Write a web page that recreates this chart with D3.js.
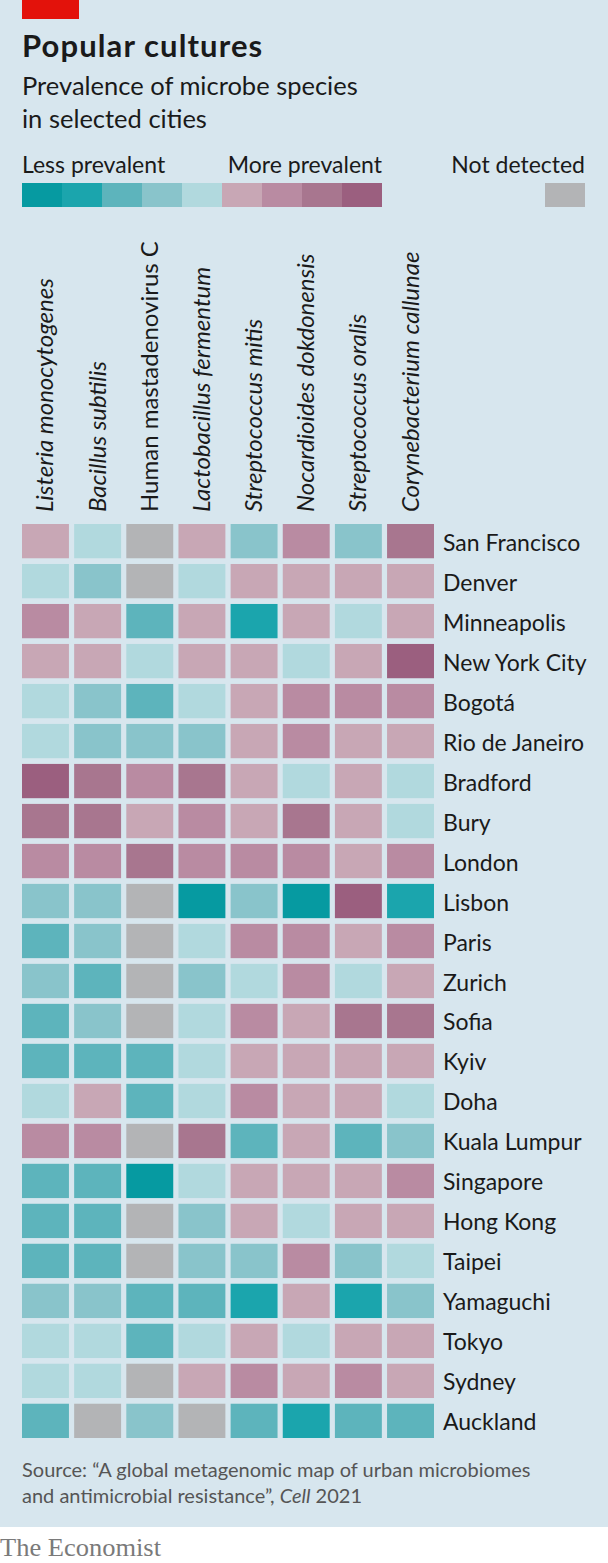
<!DOCTYPE html>
<html>
<head>
<meta charset="utf-8">
<script src="https://cdn.jsdelivr.net/npm/d3@7"></script>
<style>
  html, body { margin: 0; padding: 0; background: #ffffff; }
  svg { display: block; }
  text { font-family: Lato, "Open Sans", sans-serif; }
</style>
</head>
<body>
<svg id="chart" width="608" height="1563"></svg>
<script>
// ---- Data ----
const species = [
  "Listeria monocytogenes", "Bacillus subtilis", "Human mastadenovirus C",
  "Lactobacillus fermentum", "Streptococcus mitis", "Nocardioides dokdonensis",
  "Streptococcus oralis", "Corynebacterium callunae"
];
const italicSpecies = [true, true, false, true, true, true, true, true];
const cities = [
  "San Francisco", "Denver", "Minneapolis", "New York City", "Bogotá", "Rio de Janeiro",
  "Bradford", "Bury", "London", "Lisbon", "Paris", "Zurich", "Sofia", "Kyiv", "Doha",
  "Kuala Lumpur", "Singapore", "Hong Kong", "Taipei", "Yamaguchi", "Tokyo", "Sydney", "Auckland"
];
// prevalence level 1 (less) .. 9 (more); null = not detected; one array per species, in city order
const listeria        = [6,5,7,6,5,5,9,8,7,4,3,4,3,3,5,7,3,3,3,4,5,5,3];
const bacillus        = [5,4,6,6,4,4,8,8,7,4,4,3,4,3,6,7,3,3,3,4,5,5,null];
const mastadenovirus  = [null,null,3,5,3,4,7,6,8,null,null,null,null,3,3,null,1,null,null,3,3,null,4];
const lactobacillus   = [6,5,6,6,5,4,8,7,7,1,5,4,5,5,5,8,5,4,4,3,5,6,null];
const mitis           = [4,6,2,6,6,6,6,6,7,4,7,5,7,6,7,3,6,6,4,2,6,7,3];
const nocardioides    = [7,6,6,5,7,7,5,8,7,1,7,7,6,6,6,6,6,5,7,6,5,6,2];
const oralis          = [4,6,5,6,7,6,6,6,6,9,6,5,8,6,6,3,6,6,4,2,6,7,3];
const corynebacterium = [8,6,6,9,7,6,5,5,7,2,7,6,8,6,5,4,7,6,5,4,6,6,3];
const seriesValues = [listeria, bacillus, mastadenovirus, lactobacillus, mitis, nocardioides, oralis, corynebacterium];

const levels = [1,2,3,4,5,6,7,8,9];
const levelColors = ["#069aa1","#1ba5ad","#5db4bc","#89c4cb","#b1d9de","#c8a7b5","#b98ba2","#a8768f","#9b5f7f"];
const notDetectedColor = "#b3b4b6";

const legendLabels = ["Less prevalent", "More prevalent", "Not detected"];
const titleText = "Popular cultures";
const subtitleLines = ["Prevalence of microbe species", "in selected cities"];
const sourceLine1 = "Source: \u201CA global metagenomic map of urban microbiomes";
const sourceLine2a = "and antimicrobial resistance\u201D, ";
const sourceLine2b = "Cell";
const sourceLine2c = " 2021";

// ---- Build ----
const W = 608, H = 1563;
const svg = d3.select("#chart");
const bg = "#d7e6ee";
const ink = "#1a1a1a";

svg.append("rect").attr("x", 0).attr("y", 0).attr("width", W).attr("height", H).attr("fill", "#ffffff");
svg.append("rect").attr("x", 0).attr("y", 0).attr("width", W).attr("height", 1527).attr("fill", bg);
svg.append("rect").attr("x", 22).attr("y", 0).attr("width", 57).attr("height", 19).attr("fill", "#e3120b");

svg.append("text").attr("x", 22).attr("y", 57)
  .attr("font-size", 31).attr("font-weight", 700).attr("letter-spacing", 1.1)
  .attr("fill", ink).text(titleText);
svg.append("g").selectAll("text").data(subtitleLines).join("text")
  .attr("x", 22).attr("y", (d, i) => 95 + i * 33)
  .attr("font-size", 25.5).attr("fill", ink).text(d => d);

// Legend
const color = d3.scaleOrdinal().domain(levels).range(levelColors);
const legendX = d3.scaleBand().domain(levels).range([22, 382]);
svg.append("g").selectAll("rect").data(levels).join("rect")
  .attr("x", d => legendX(d)).attr("y", 183)
  .attr("width", legendX.bandwidth()).attr("height", 24)
  .attr("fill", d => color(d));
svg.append("rect").attr("x", 545).attr("y", 183).attr("width", 40).attr("height", 24).attr("fill", notDetectedColor);
svg.append("text").attr("x", 22).attr("y", 173).attr("font-size", 23).attr("fill", ink).text(legendLabels[0]);
svg.append("text").attr("x", 382).attr("y", 173).attr("text-anchor", "end").attr("font-size", 23).attr("fill", ink).text(legendLabels[1]);
svg.append("text").attr("x", 585).attr("y", 173).attr("text-anchor", "end").attr("font-size", 23).attr("fill", ink).text(legendLabels[2]);

// Heatmap
const x = d3.scaleBand().domain(species).range([22, 434]).paddingInner(0.1);
const y = d3.scaleBand().domain(cities).range([524, 1438]).paddingInner(0.143);

const cells = [];
species.forEach((s, j) => {
  cities.forEach((c, i) => cells.push({ species: s, city: c, value: seriesValues[j][i] }));
});
svg.append("g").selectAll("rect").data(cells).join("rect")
  .attr("x", d => x(d.species)).attr("y", d => y(d.city))
  .attr("width", x.bandwidth()).attr("height", y.bandwidth())
  .attr("fill", d => d.value == null ? notDetectedColor : color(d.value));

// Column labels (rotated)
svg.append("g").selectAll("text").data(species).join("text")
  .attr("transform", d => `translate(${x(d) + x.bandwidth() / 2 + 8},512) rotate(-90)`)
  .attr("font-size", 24)
  .attr("font-style", (d, i) => italicSpecies[i] ? "italic" : "normal")
  .attr("fill", ink).text(d => d);

// Row labels
svg.append("g").selectAll("text").data(cities).join("text")
  .attr("x", 443).attr("y", d => y(d) + y.bandwidth() / 2 + 9.5)
  .attr("font-size", 23).attr("fill", ink).text(d => d);

// Source
svg.append("text").attr("x", 22).attr("y", 1477).attr("font-size", 20).attr("fill", "#555555").text(sourceLine1);
const s2 = svg.append("text").attr("x", 22).attr("y", 1503).attr("font-size", 20).attr("fill", "#555555");
s2.append("tspan").text(sourceLine2a);
s2.append("tspan").attr("font-style", "italic").text(sourceLine2b);
s2.append("tspan").text(sourceLine2c);

// Footer
svg.append("text").attr("x", 0).attr("y", 1556)
  .style("font-family", "'Liberation Serif', 'DejaVu Serif', serif")
  .attr("font-size", 25).attr("fill", "#7a7a7a")
  .attr("textLength", 161).attr("lengthAdjust", "spacingAndGlyphs")
  .text("The Economist");
</script>
</body>
</html>
